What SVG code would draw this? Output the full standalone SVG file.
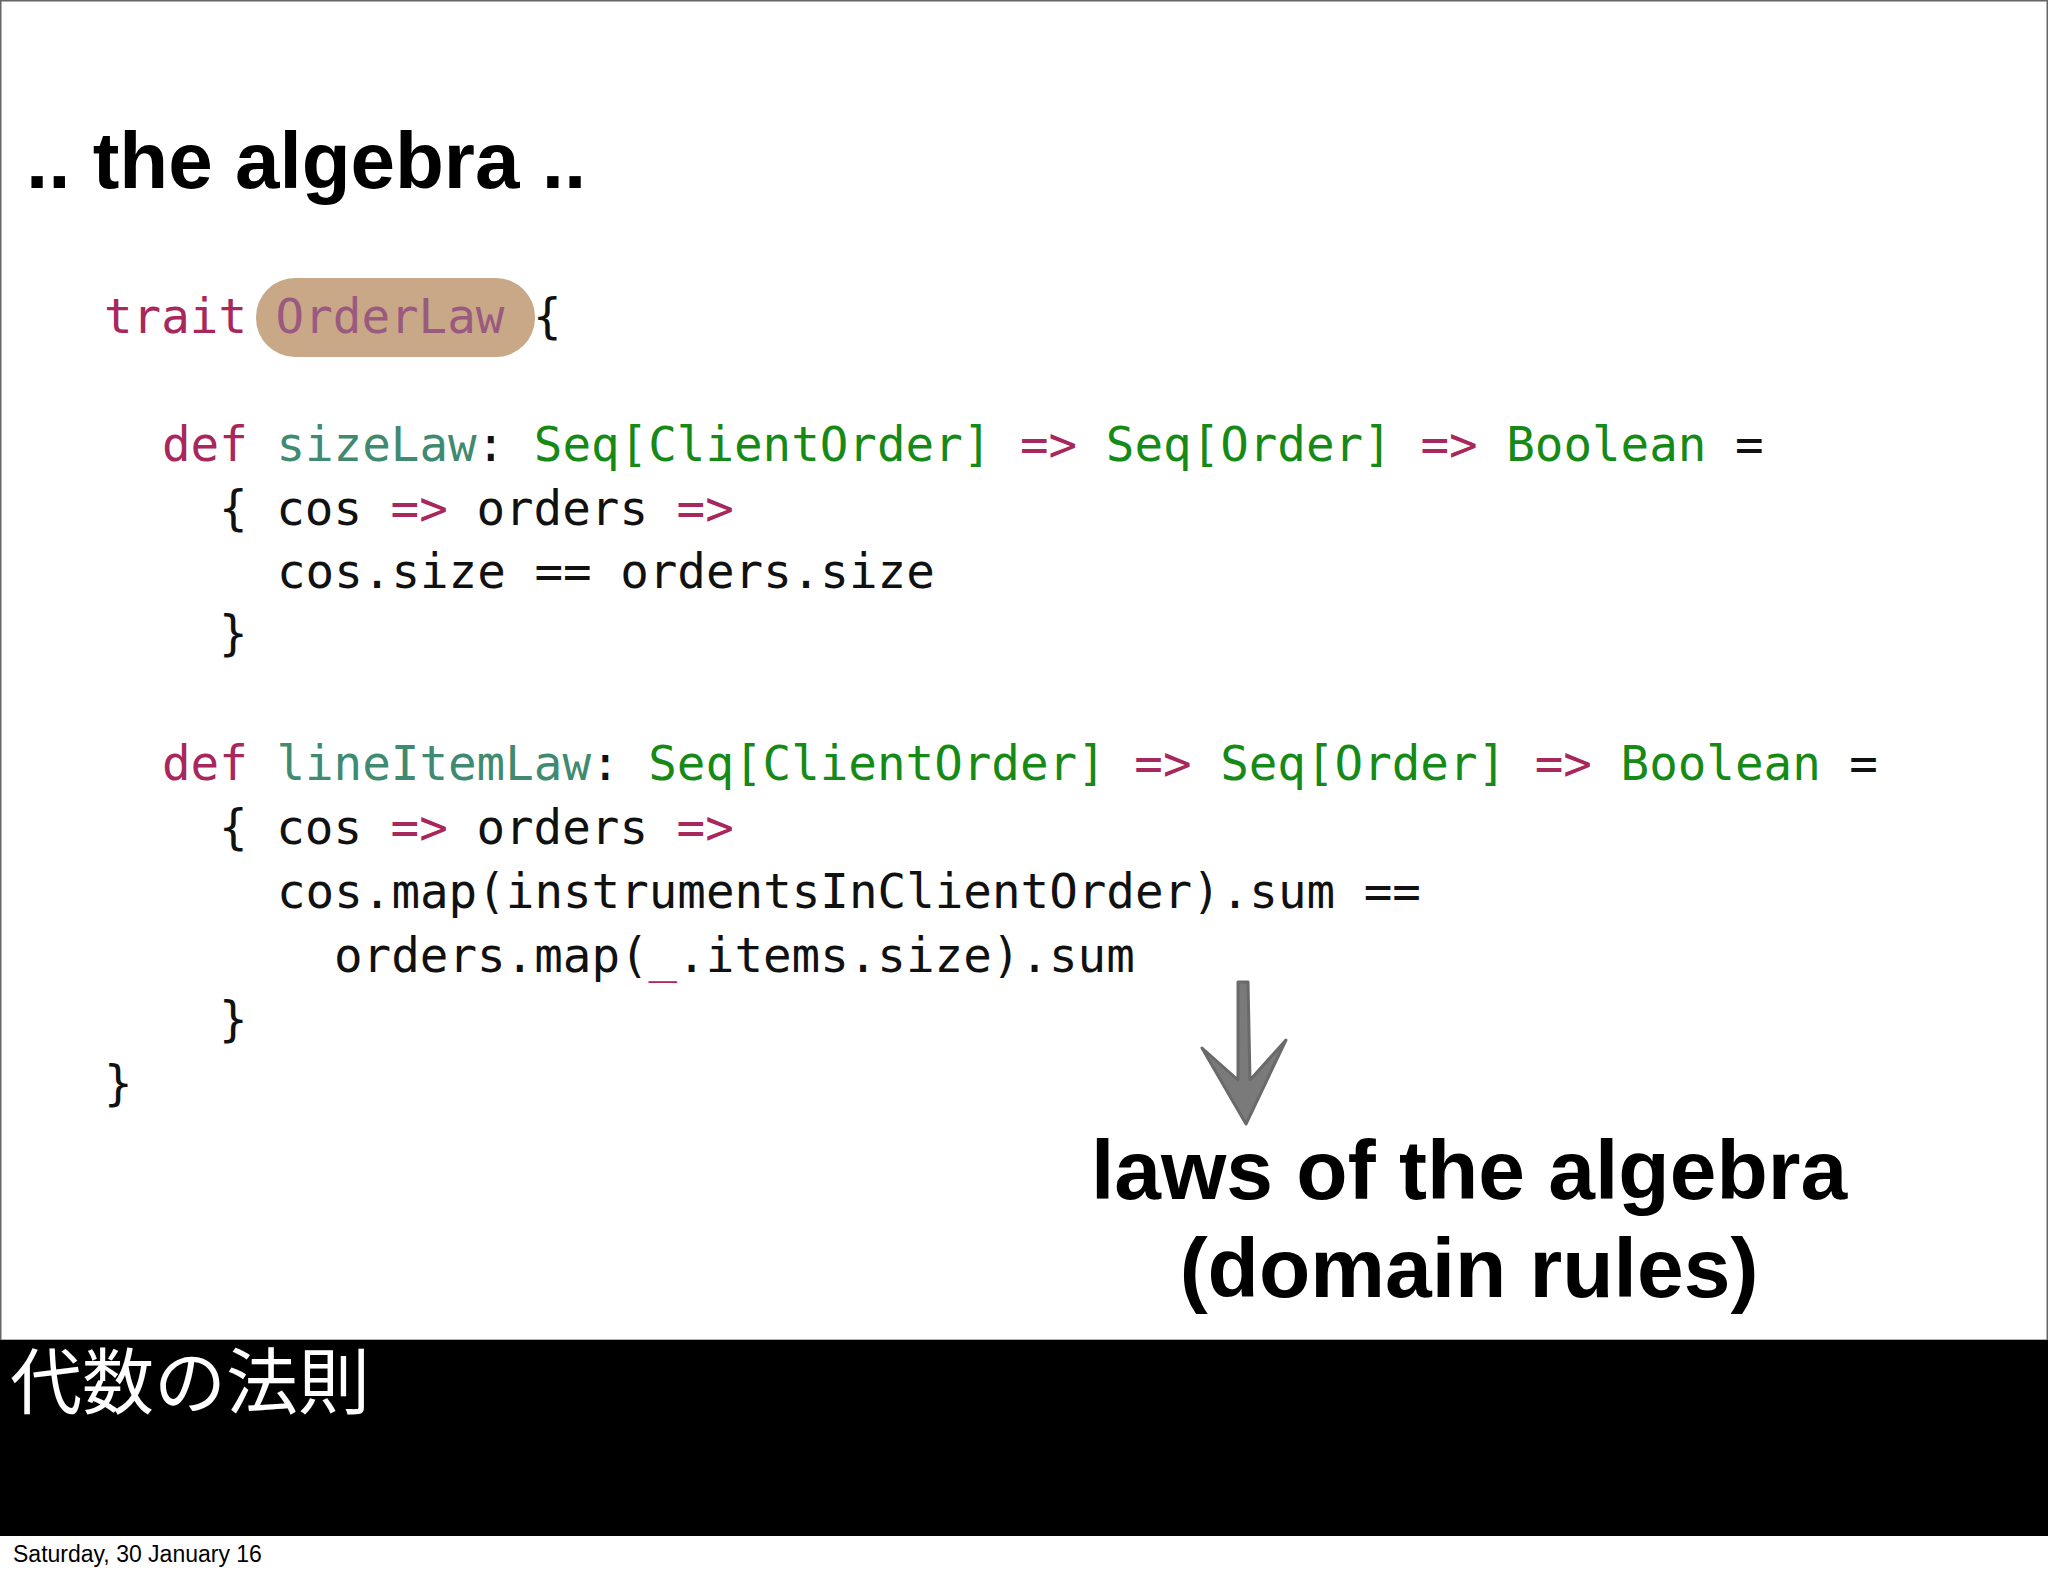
<svg xmlns="http://www.w3.org/2000/svg" width="2048" height="1576" viewBox="0 0 2048 1576">
<style>
.code{font-family:"DejaVu Sans Mono",monospace;font-size:47.5px;fill:#111;white-space:pre}
.kw{fill:#a8275c}.fn{fill:#3f8a70}.ty{fill:#168a16}.tr{fill:#9a5a80}
.head{font-family:"Liberation Sans",sans-serif;font-weight:bold;fill:#000}
</style>
<rect x="0" y="0" width="2048" height="1576" fill="#fff"/>
<rect x="0.5" y="0.5" width="2047" height="1340" fill="none" stroke="#666" stroke-width="2"/>
<text class="head" x="26" y="188" font-size="80">.. the algebra ..</text>
<g id="code">
<rect x="256" y="278" width="279" height="79" rx="39" fill="#c8a887"/>
<text class="code" x="104" y="333" xml:space="preserve"><tspan class="kw">trait</tspan> <tspan class="tr">OrderLaw</tspan> {</text>
<text class="code" x="162" y="461" xml:space="preserve"><tspan class="kw">def</tspan> <tspan class="fn">sizeLaw</tspan>: <tspan class="ty">Seq[ClientOrder]</tspan> <tspan class="kw">=&gt;</tspan> <tspan class="ty">Seq[Order]</tspan> <tspan class="kw">=&gt;</tspan> <tspan class="ty">Boolean</tspan> =</text>
<text class="code" x="219" y="525" xml:space="preserve">{ cos <tspan class="kw">=&gt;</tspan> orders <tspan class="kw">=&gt;</tspan></text>
<text class="code" x="277" y="588" xml:space="preserve">cos.size == orders.size</text>
<text class="code" x="219" y="650">}</text>
<text class="code" x="162" y="780" xml:space="preserve"><tspan class="kw">def</tspan> <tspan class="fn">lineItemLaw</tspan>: <tspan class="ty">Seq[ClientOrder]</tspan> <tspan class="kw">=&gt;</tspan> <tspan class="ty">Seq[Order]</tspan> <tspan class="kw">=&gt;</tspan> <tspan class="ty">Boolean</tspan> =</text>
<text class="code" x="219" y="844" xml:space="preserve">{ cos <tspan class="kw">=&gt;</tspan> orders <tspan class="kw">=&gt;</tspan></text>
<text class="code" x="277" y="908" xml:space="preserve">cos.map(instrumentsInClientOrder).sum ==</text>
<text class="code" x="334" y="972" xml:space="preserve">orders.map(<tspan class="kw">_</tspan>.items.size).sum</text>
<text class="code" x="219" y="1036">}</text>
<text class="code" x="104" y="1100">}</text>
</g>
<g id="arrow">
<path d="M1238,982 L1248,982 L1250,1080 L1286,1040 L1246,1124 L1202,1048 L1238,1080 Z" fill="#7a7a7a" stroke="#6a6a6a" stroke-width="3" stroke-linejoin="round"/>
</g>
<g id="caption">
<text class="head" x="1469" y="1199" font-size="84" text-anchor="middle">laws of the algebra</text>
<text class="head" x="1469" y="1297" font-size="84" text-anchor="middle">(domain rules)</text>
</g>
<rect x="0" y="1340" width="2048" height="196" fill="#000"/>
<text x="10" y="1408" font-family="'Noto Sans CJK JP',sans-serif" font-size="72" fill="#fff">代数の法則</text>
<text x="13" y="1562" font-family="'Liberation Sans',sans-serif" font-size="23" fill="#000">Saturday, 30 January 16</text>
</svg>
